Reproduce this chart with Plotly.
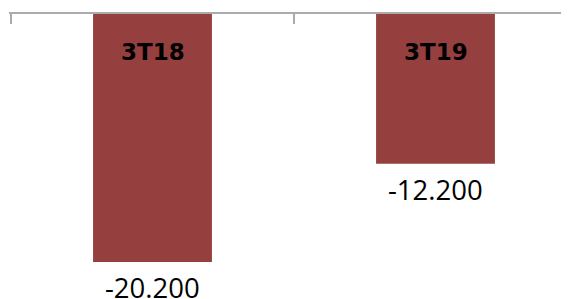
import plotly.graph_objects as go

categories = ["3T18", "3T19"]
values = [-20.2, -12.2]
value_labels = ["-20.200", "-12.200"]

x_pos = list(range(len(categories)))
bar_color = "#953F3E"

fig = go.Figure()
fig.add_trace(go.Bar(
    x=x_pos, y=values, width=0.42,
    marker=dict(color=bar_color, line=dict(width=0)),
    hoverinfo="skip",
))

for xi, cat, v, lab in zip(x_pos, categories, values, value_labels):
    fig.add_annotation(x=xi, y=0, text="<b>" + cat + "</b>", showarrow=False, yanchor="top", yshift=-23,
                       font=dict(family="DejaVu Sans", size=23, color="black"),
                       xref="x", yref="y")
    fig.add_annotation(x=xi, y=v, text=lab, showarrow=False, yanchor="top", yshift=-5,
                       font=dict(family="Open Sans", size=27.5, color="black"),
                       xref="x", yref="y")

# page body has an 8px default margin; compensate so the plot area sits at x=11, y=14
fig.update_layout(
    width=569, height=299, autosize=False,
    margin=dict(l=1, r=0, t=6, b=0, pad=0, autoexpand=False),
    paper_bgcolor="white", plot_bgcolor="white",
    showlegend=False,
    xaxis=dict(range=[-0.5 - 2 / 283, 1.5], side="top", showline=True, linecolor="#ABABAB",
               linewidth=1.5, ticks="inside", ticklen=10, tickcolor="#ABABAB", tickwidth=1.5,
               tickvals=[-0.5, 0.5], showticklabels=False, showgrid=False, zeroline=False,
               automargin=False),
    yaxis=dict(range=[-293 / 12.28, 0], visible=False, showgrid=False, zeroline=False, automargin=False),
)

fig.write_html("out.html")
